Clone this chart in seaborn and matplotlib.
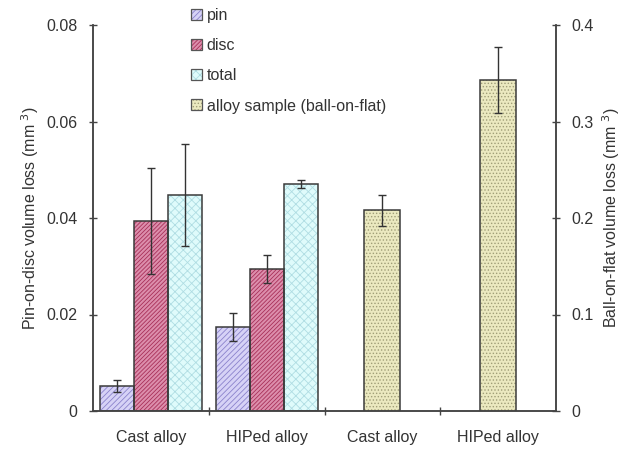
import matplotlib
matplotlib.use("Agg")
import matplotlib.pyplot as plt
import seaborn as sns
import pandas as pd
import numpy as np
from matplotlib.patches import Rectangle, Patch
from matplotlib.ticker import FixedLocator, FuncFormatter
from matplotlib.legend_handler import HandlerTuple

# ---- data ----
categories = ["Cast alloy", "HIPed alloy", "Cast alloy ", "HIPed alloy "]
tick_labels = ["Cast alloy", "HIPed alloy", "Cast alloy", "HIPed alloy"]
pod_series = ["pin", "disc", "total"]
pod_groups = ["Cast alloy", "HIPed alloy"]
pin_vals = [0.0052, 0.0175]
pin_err = [0.0013, 0.0029]
disc_vals = [0.0394, 0.0295]
disc_err = [0.0110, 0.0029]
total_vals = [0.0448, 0.0470]
total_err = [0.0105, 0.0008]
bof_groups = ["Cast alloy ", "HIPed alloy "]
bof_vals = [0.208, 0.343]
bof_err = [0.016, 0.034]
bof_label = "alloy sample (ball-on-flat)"

sns.set_theme(style="white")
plt.rcParams["font.family"] = ["Liberation Sans", "DejaVu Sans"]
plt.rcParams["hatch.linewidth"] = 0.6

text_col = "#333333"
axis_col = "#444444"
W, H = 628, 451

fig = plt.figure(figsize=(6.28, 4.51), dpi=100)
ax = fig.add_axes([93 / W, 1 - 411 / H, 463 / W, 386 / H])
ax2 = ax.twinx()

pod_df = pd.DataFrame({
    "cat": pod_groups * 3,
    "series": [s for s in pod_series for _ in pod_groups],
    "val": pin_vals + disc_vals + total_vals,
    "err": pin_err + disc_err + total_err,
})
bof_df = pd.DataFrame({"cat": bof_groups, "val": bof_vals, "err": bof_err})

face = {"pin": "#d6d2f6", "disc": "#dc8eac", "total": "#dffbfb"}
hcol = {"pin": "#8a82cc", "disc": "#a83058", "total": "#b0dde3"}
hatch = {"pin": "//////", "disc": "////////", "total": "xxxx"}
bof_face, bof_hcol, bof_hatch = "#ebe9c0", "#a09e78", "....."

sns.barplot(data=pod_df, x="cat", y="val", hue="series", order=categories,
            hue_order=pod_series, ax=ax, width=0.88, errorbar=None,
            palette=face, legend=False, saturation=1)
sns.barplot(data=bof_df, x="cat", y="val", order=categories, ax=ax2,
            width=0.31, errorbar=None, color=bof_face, saturation=1)

def style_bars(axx, patches, fc, hc, ht, errs, capsize=3):
    for p, e in zip(patches, errs):
        p.set_facecolor(fc)
        p.set_edgecolor(hc)
        p.set_hatch(ht)
        p.set_linewidth(0)
        x0, y0 = p.get_x(), p.get_y()
        w, h = p.get_width(), p.get_height()
        axx.add_patch(Rectangle((x0, y0), w, h, fill=False, edgecolor="#3a3a3a",
                                linewidth=1.1, zorder=p.get_zorder() + 0.1))
        axx.errorbar(x0 + w / 2, y0 + h, yerr=e, color="#333333", elinewidth=1.0,
                     capsize=capsize, capthick=1.0, zorder=5)

pod_patches = sorted([p for p in ax.patches if p.get_height() > 0], key=lambda p: p.get_x())
for gi, g in enumerate(pod_groups):
    for si, s in enumerate(pod_series):
        p = pod_patches[gi * 3 + si]
        err = pod_df[(pod_df.cat == g) & (pod_df.series == s)]["err"].iloc[0]
        style_bars(ax, [p], face[s], hcol[s], hatch[s], [err])

bof_patches = sorted([p for p in ax2.patches if p.get_height() > 0], key=lambda p: p.get_x())
style_bars(ax2, bof_patches, bof_face, bof_hcol, bof_hatch, bof_err)

ax.set_ylim(0, 0.08)
ax2.set_ylim(0, 0.4)
ax.set_xlim(-0.5, 3.5)
ax.set_yticks([0, 0.02, 0.04, 0.06, 0.08])
ax.yaxis.set_major_formatter(FuncFormatter(lambda v, p: "0" if v == 0 else f"{v:.2f}"))
ax2.set_yticks([0, 0.1, 0.2, 0.3, 0.4])
ax2.yaxis.set_major_formatter(FuncFormatter(lambda v, p: "0" if v == 0 else f"{v:.1f}"))

fs_tick = 11.5
ax.set_xticks(range(4))
ax.set_xticklabels(tick_labels)
ax.xaxis.set_minor_locator(FixedLocator([0.5, 1.5, 2.5]))
ax.tick_params(axis="x", which="major", length=0, pad=14, labelsize=fs_tick, labelcolor=text_col)
ax.tick_params(axis="x", which="minor", length=6, width=1, color=axis_col, direction="inout", bottom=True)
ax.tick_params(axis="y", length=6, width=1, color=axis_col, direction="inout", left=True,
               labelsize=fs_tick, labelcolor=text_col, pad=8)
ax2.tick_params(axis="y", length=6, width=1, color=axis_col, direction="inout", right=True,
                labelsize=fs_tick, labelcolor=text_col, pad=8)

ax.set_xlabel("")
ax.set_ylabel("Pin-on-disc volume loss (mm $^3$)", fontsize=11.5, color=text_col, labelpad=4)
ax2.set_xlabel("")
ax2.set_ylabel("Ball-on-flat volume loss (mm $^3$)", fontsize=11.5, color=text_col, labelpad=5)

for a in (ax, ax2):
    for side in ("left", "right", "bottom"):
        a.spines[side].set_color(axis_col)
        a.spines[side].set_linewidth(1.1)
    a.spines["top"].set_visible(False)
    a.grid(False)

handles = []
labels = []
for s in pod_series:
    handles.append((Patch(facecolor=face[s], edgecolor=hcol[s], hatch=hatch[s], linewidth=0),
                    Patch(fill=False, edgecolor="#555555", linewidth=0.9)))
    labels.append(s)
handles.append((Patch(facecolor=bof_face, edgecolor=bof_hcol, hatch=bof_hatch, linewidth=0),
                Patch(fill=False, edgecolor="#555555", linewidth=0.9)))
labels.append(bof_label)
leg = fig.legend(handles=handles, labels=labels, loc="upper left",
                 bbox_to_anchor=(191 / W, 1 - 8 / H), bbox_transform=fig.transFigure,
                 frameon=False, fontsize=11.5, handlelength=0.68, handleheight=0.68,
                 labelspacing=0.95, handletextpad=0.3, borderpad=0, borderaxespad=0,
                 handler_map={tuple: HandlerTuple(ndivide=1, pad=0)})
for t in leg.get_texts():
    t.set_color(text_col)

fig.savefig("out.png", dpi=100)
